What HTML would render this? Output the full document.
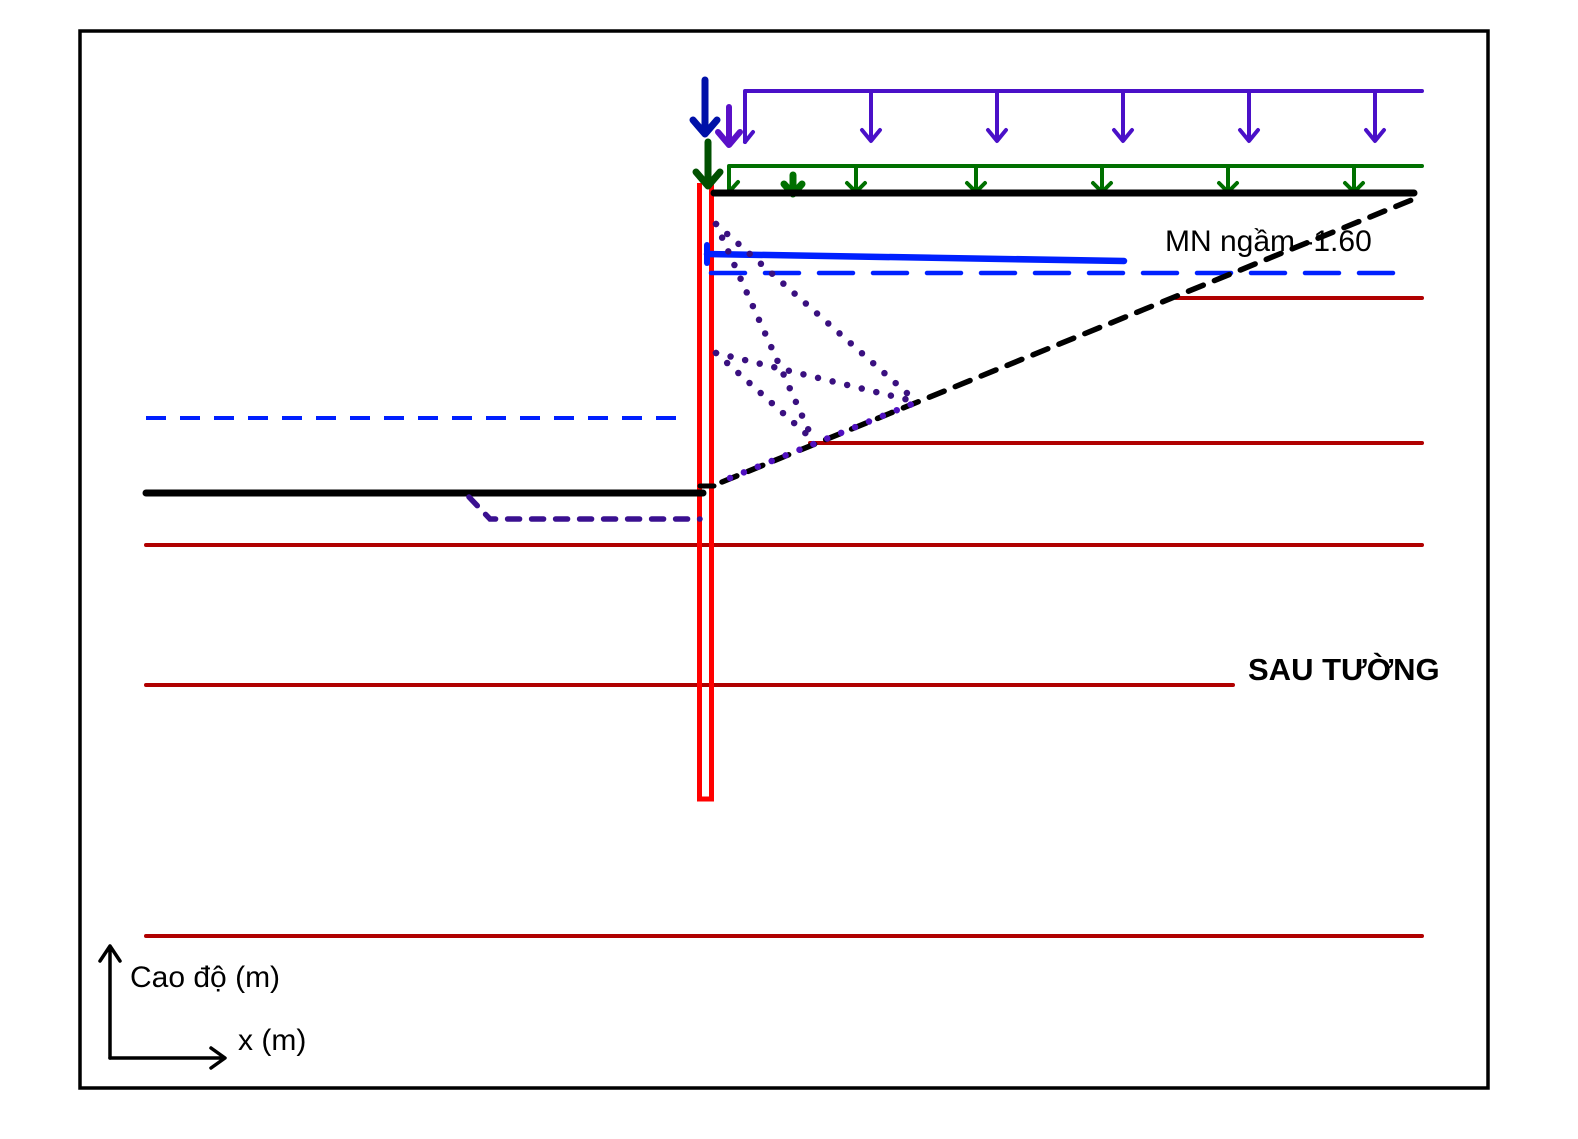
<!DOCTYPE html>
<html><head><meta charset="utf-8"><style>html,body{margin:0;padding:0;background:#fff;overflow:hidden}svg{display:block}</style></head><body>
<svg width="1578" height="1139" xmlns="http://www.w3.org/2000/svg" font-family="Liberation Sans, sans-serif">
<rect x="80" y="31" width="1408" height="1057" fill="#fff" stroke="#000" stroke-width="3.5"/>
<g stroke="#b00000" stroke-width="4" stroke-linecap="round">
<line x1="1176" y1="298" x2="1422" y2="298"/>
<line x1="810" y1="443" x2="1422" y2="443"/>
<line x1="146" y1="545" x2="1422" y2="545"/>
<line x1="146" y1="685" x2="1233" y2="685"/>
<line x1="146" y1="936" x2="1422" y2="936"/>
</g>
<path d="M699.5 183 V799 H711.5 V183" fill="none" stroke="#ff0000" stroke-width="5"/>
<g stroke="#4a10c8" stroke-width="4" fill="none" stroke-linecap="round" stroke-linejoin="round">
<path d="M745 142 V91 H1422"/>
<path d="M745 142 L753 132"/>
<path d="M871 91 V140 M862 130 L871 141 L880 130"/>
<path d="M997 91 V140 M988 130 L997 141 L1006 130"/>
<path d="M1123 91 V140 M1114 130 L1123 141 L1132 130"/>
<path d="M1249 91 V140 M1240 130 L1249 141 L1258 130"/>
<path d="M1375 91 V140 M1366 130 L1375 141 L1384 130"/>
</g>
<g stroke="#5a10c8" stroke-width="6" fill="none" stroke-linecap="round" stroke-linejoin="round">
<path d="M729 107 V143 M718 132 L729 145 L740 132"/>
</g>
<g stroke="#0010a8" stroke-width="7" fill="none" stroke-linecap="round" stroke-linejoin="round">
<path d="M705 80 V130 M693 120 L705 134 L717 120"/>
</g>
<g stroke="#007000" stroke-width="4" fill="none" stroke-linecap="round" stroke-linejoin="round">
<path d="M729 192 V166 H1422"/>
<path d="M729 192 L738 182"/>
<path d="M856 166 V192 M847 183 L856 192 L865 183"/>
<path d="M976 166 V192 M967 183 L976 192 L985 183"/>
<path d="M1102 166 V192 M1093 183 L1102 192 L1111 183"/>
<path d="M1228 166 V192 M1219 183 L1228 192 L1237 183"/>
<path d="M1354 166 V192 M1345 183 L1354 192 L1363 183"/>
</g>
<g stroke="#007000" stroke-width="7" fill="none" stroke-linecap="round" stroke-linejoin="round">
<path d="M793 175 V193 M784 184 L793 194 L802 184"/>
</g>
<g stroke="#005000" stroke-width="7" fill="none" stroke-linecap="round" stroke-linejoin="round">
<path d="M708 142 V184 M696 172 L708 186 L720 172"/>
</g>
<line x1="714" y1="193" x2="1414" y2="193" stroke="#000" stroke-width="7" stroke-linecap="round"/>
<line x1="146" y1="493" x2="703" y2="493" stroke="#000" stroke-width="7" stroke-linecap="round"/>
<line x1="700" y1="486" x2="714" y2="486" stroke="#000" stroke-width="5" stroke-linecap="round"/>
<line x1="711" y1="273" x2="1410" y2="273" stroke="#0020ff" stroke-width="4.5" stroke-dasharray="34,20" stroke-linecap="round"/>
<line x1="146" y1="418" x2="686" y2="418" stroke="#0020ff" stroke-width="4" stroke-dasharray="20,14"/>
<line x1="707" y1="254" x2="1124" y2="261" stroke="#0020ff" stroke-width="6.5" stroke-linecap="round"/>
<line x1="707" y1="245" x2="707" y2="263" stroke="#0020ff" stroke-width="6" stroke-linecap="round"/>
<line x1="722" y1="482" x2="1414" y2="199" stroke="#000" stroke-width="5.5" stroke-dasharray="16,12" stroke-linecap="round"/>
<g stroke="#3a1080" stroke-width="6.5" stroke-linecap="round" stroke-dasharray="0,15" fill="none">
<line x1="716" y1="224" x2="813" y2="440"/>
<line x1="716" y1="224" x2="917" y2="402"/>
<line x1="716" y1="353" x2="813" y2="440"/>
<line x1="716" y1="353" x2="917" y2="402"/>
</g>
<g stroke="#5010c0" stroke-width="6.5" stroke-linecap="round" stroke-dasharray="0,15" fill="none">
<line x1="730" y1="478" x2="917" y2="402"/>
</g>
<path d="M469 497 L490 519 H700" fill="none" stroke="#3a1090" stroke-width="5.5" stroke-dasharray="12,12" stroke-linecap="round"/>
<text x="1165" y="251" font-size="30">MN ngầm -1.60</text>
<text x="1248" y="680" font-size="31" font-weight="bold">SAU TƯỜNG</text>
<text x="130" y="987" font-size="30">Cao độ (m)</text>
<text x="238" y="1050" font-size="30">x (m)</text>
<g stroke="#000" stroke-width="3.5" fill="none" stroke-linecap="round" stroke-linejoin="round">
<path d="M110 1058 V946 M100 961 L110 946 L120 961"/>
<path d="M110 1058 H224 M211 1048 L225 1058 L211 1068"/>
</g>
</svg>
</body></html>
